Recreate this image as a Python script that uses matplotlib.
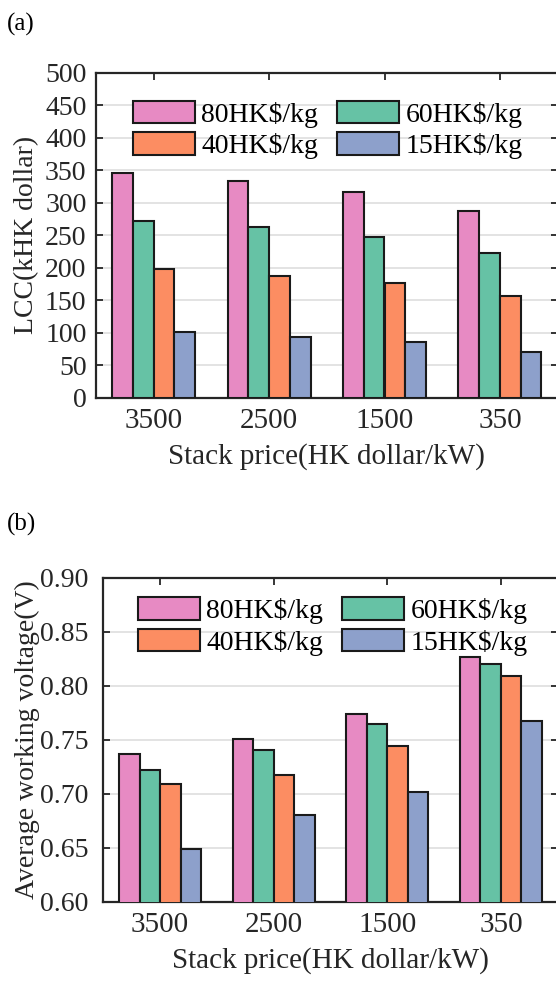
import numpy as np
import matplotlib
matplotlib.use("Agg")
import matplotlib.pyplot as plt

# data
stack_prices = ["3500", "2500", "1500", "350"]
h2_labels = ["80HK$/kg", "60HK$/kg", "40HK$/kg", "15HK$/kg"]
colors = ["#E78AC3", "#66C2A5", "#FC8D62", "#8DA0CB"]

lcc_80 = [346, 333, 317, 287]
lcc_60 = [272, 262, 248, 222]
lcc_40 = [198, 188, 177, 157]
lcc_15 = [101, 93, 85, 71]

volt_80 = [0.7365, 0.7509, 0.7741, 0.8266]
volt_60 = [0.7222, 0.7407, 0.7648, 0.8198]
volt_40 = [0.7093, 0.7170, 0.7444, 0.8090]
volt_15 = [0.6485, 0.6800, 0.7013, 0.7676]

plt.rcParams["font.family"] = ["Liberation Serif", "DejaVu Serif"]
dark = "#262626"

W, H = 556, 981
fig = plt.figure(figsize=(W / 100, H / 100), dpi=100)


def px_axes(left, top, right, bottom):
    return fig.add_axes([left / W, 1 - bottom / H, (right - left) / W, (bottom - top) / H])


def draw_panel(ax, series, ylim, yticks, yfmt, ylabel, ypad, ylab_x, xlab_y, leg_anchor):
    x = np.arange(len(stack_prices))
    width = 0.18
    handles = []
    for i, (vals, lab, c) in enumerate(zip(series, h2_labels, colors)):
        b = ax.bar(x + (i - 1.5) * width, vals, width, color=c, edgecolor="#1a1a1a",
                   linewidth=1.5, label=lab, zorder=3)
        handles.append(b)
    ax.set_xlim(-0.5, 3.5)
    ax.set_ylim(*ylim)
    ax.set_yticks(yticks)
    ax.set_yticklabels([yfmt.format(v) for v in yticks])
    ax.set_xticks(x)
    ax.set_xticklabels(stack_prices)
    ax.grid(axis="y", color="#e0e0e0", linewidth=1.3, zorder=0)
    ax.set_axisbelow(True)
    for s in ax.spines.values():
        s.set_color(dark)
        s.set_linewidth(1.6)
    ax.tick_params(direction="in", top=True, right=True, length=5, width=1.3,
                   color=dark, labelcolor=dark)
    ax.tick_params(axis="x", pad=7.5, labelsize=21)
    ax.tick_params(axis="y", pad=ypad, labelsize=20)
    ax.set_xlabel("Stack price(HK dollar/kW)", fontsize=21, color=dark, va="center")
    ax.xaxis.set_label_coords(0.5, xlab_y)
    ax.set_ylabel(ylabel, fontsize=20, color=dark, va="center")
    ax.yaxis.set_label_coords(ylab_x, 0.5)
    # row-wise order: 80 | 60 / 40 | 15
    order = [0, 2, 1, 3]
    ax.legend([handles[k] for k in order], [h2_labels[k] for k in order],
              ncol=2, frameon=False, loc="upper left", bbox_to_anchor=leg_anchor,
              borderaxespad=0, borderpad=0, handlelength=2.23, handleheight=0.86,
              handletextpad=0.24, columnspacing=0.67, labelspacing=0.17, fontsize=20)


ax1 = px_axes(96, 72.7, 557.6, 397.7)
draw_panel(ax1, [lcc_80, lcc_60, lcc_40, lcc_15], (0, 500), np.arange(0, 501, 50),
           "{:.0f}", "LCC(kHK dollar)", 6.8, -0.150, -0.1815, (0.0795, 0.913))

ax2 = px_axes(103.3, 577.7, 557.7, 901.7)
draw_panel(ax2, [volt_80, volt_60, volt_40, volt_15], (0.6, 0.9),
           np.round(np.arange(0.60, 0.901, 0.05), 2), "{:.2f}",
           "Average working voltage(V)", 10.6, -0.1668, -0.183, (0.0757, 0.939))

fig.text(6.7 / W, 1 - 24.5 / H, "(a)", fontsize=18, color="black", va="center", ha="left")
fig.text(6.7 / W, 1 - 524.5 / H, "(b)", fontsize=18, color="black", va="center", ha="left")

fig.savefig("out.png", dpi=100)
